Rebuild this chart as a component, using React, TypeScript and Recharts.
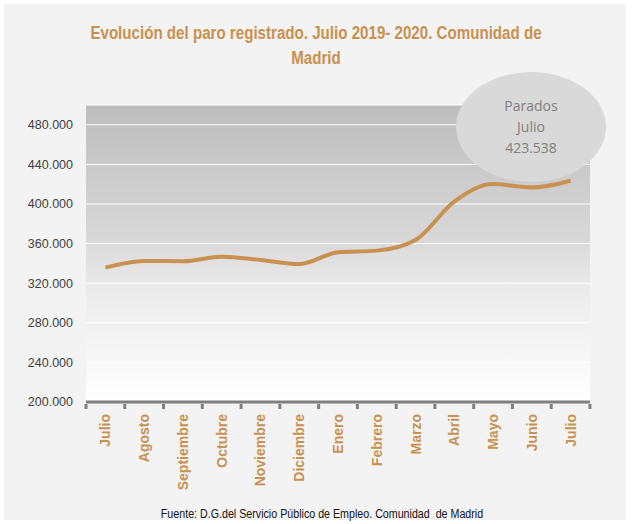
import React from "react";
import {
  ComposedChart,
  Line,
  XAxis,
  YAxis,
  CartesianGrid,
} from "recharts";

const months = [
  "Julio",
  "Agosto",
  "Septiembre",
  "Octubre",
  "Noviembre",
  "Diciembre",
  "Enero",
  "Febrero",
  "Marzo",
  "Abril",
  "Mayo",
  "Junio",
  "Julio",
];

const parados = [
  335700, 342500, 342200, 346800, 343500, 339400, 351300, 352900, 363700,
  402500, 420100, 416700, 423538,
];

const yTicks = [200000, 240000, 280000, 320000, 360000, 400000, 440000, 480000];

const data = months.map((m, i) => ({ mes: m, parados: parados[i], key: i }));

const GOLD = "#C89150";
const SANS = "'Liberation Sans', Arial, sans-serif";

const fmt = (v: number) => v.toLocaleString("de-DE", { minimumFractionDigits: 3 }).replace(",", ".");

const fmtThousands = (v: number) => String(Math.round(v / 1000)) + ".000";

const XTick = (props: any) => {
  const { x, y, payload, width, visibleTicksCount, index } = props;
  const bw = width / visibleTicksCount;
  const last = index === visibleTicksCount - 1;
  return (
    <g>
      <line x1={x - bw / 2} x2={x - bw / 2} y1={y - 6} y2={y - 1} stroke="#7f7f7f" strokeWidth={3} />
      {last && (
        <line x1={x + bw / 2} x2={x + bw / 2} y1={y - 6} y2={y - 1} stroke="#7f7f7f" strokeWidth={3} />
      )}
      <text
        x={0}
        y={0}
        transform={`translate(${x + 5},${y + 4}) rotate(-90)`}
        textAnchor="end"
        fill={GOLD}
        style={{ fontSize: 14, fontWeight: "bold", fontFamily: SANS }}
      >
        {months[payload.value]}
      </text>
    </g>
  );
};

export default function App() {
  return (
    <div
      style={{
        position: "absolute",
        left: 0,
        top: 0,
        width: 632,
        height: 524,
        background: "#ffffff",
        overflow: "hidden",
      }}
    >
      <div
        style={{
          position: "absolute",
          left: 4,
          top: 4,
          width: 622,
          height: 516,
          background: "#f3f3f3",
        }}
      />
      <div
        style={{
          position: "absolute",
          left: 0,
          top: 21,
          width: 632,
          textAlign: "center",
          color: GOLD,
          fontFamily: SANS,
          fontWeight: "bold",
          fontSize: 18,
          lineHeight: "25px",
          transform: "scaleX(0.84)",
        }}
      >
        Evolución del paro registrado. Julio 2019- 2020. Comunidad de
        <br />
        Madrid
      </div>
      <div style={{ position: "absolute", left: 0, top: 0 }}>
        <ComposedChart
          width={632}
          height={524}
          data={data}
          margin={{ top: 105, right: 42, left: 26, bottom: 30 }}
        >
          <defs>
            <linearGradient id="plotGrad" x1="0" y1="0" x2="0" y2="1">
              <stop offset="0%" stopColor="#bdbdbd" />
              <stop offset="45%" stopColor="#d8d8d8" />
              <stop offset="62%" stopColor="#ebebeb" />
              <stop offset="100%" stopColor="#ffffff" />
            </linearGradient>
          </defs>
          <CartesianGrid
            vertical={false}
            stroke="#ffffff"
            strokeWidth={1}
            fill="url(#plotGrad)"
            fillOpacity={1}
          />
          <XAxis
            dataKey="key"
            type="category"
            scale="band"
            height={92}
            interval={0}
            axisLine={{ stroke: "#7f7f7f", strokeWidth: 3 }}
            tickLine={false}
            tick={(p: any) => <XTick {...p} />}
          />
          <YAxis
            width={60}
            domain={[200000, 500000]}
            ticks={yTicks}
            allowDataOverflow
            axisLine={false}
            tickLine={false}
            tickMargin={7}
            tickFormatter={fmtThousands}
            tick={{ fill: "#404040", fontSize: 12.5, fontFamily: SANS }}
          />
          <Line
            type="monotone"
            dataKey="parados"
            stroke={GOLD}
            strokeWidth={4}
            dot={false}
            activeDot={false}
            isAnimationActive={false}
          />
        </ComposedChart>
      </div>
      <div
        style={{
          position: "absolute",
          left: 456,
          top: 72,
          width: 150,
          height: 110,
          borderRadius: "50%",
          background: "#d9d9d9",
          color: "#7f7f7f",
          fontFamily: "'Open Sans', 'Liberation Sans', sans-serif",
          fontSize: 14,
          lineHeight: "21px",
          textAlign: "center",
          display: "flex",
          flexDirection: "column",
          justifyContent: "flex-start",
          paddingTop: 23,
          boxSizing: "border-box",
        }}
      >
        <div>Parados</div>
        <div>Julio</div>
        <div>{fmt(parados[parados.length - 1] / 1000)}</div>
      </div>
      <div
        style={{
          position: "absolute",
          left: 0,
          top: 507,
          width: 644,
          textAlign: "center",
          fontFamily: SANS,
          fontSize: 12,
          color: "#111",
          transform: "scaleX(0.89)",
        }}
      >
        Fuente: D.G.del Servicio Público de Empleo. Comunidad&nbsp; de Madrid
      </div>
    </div>
  );
}
